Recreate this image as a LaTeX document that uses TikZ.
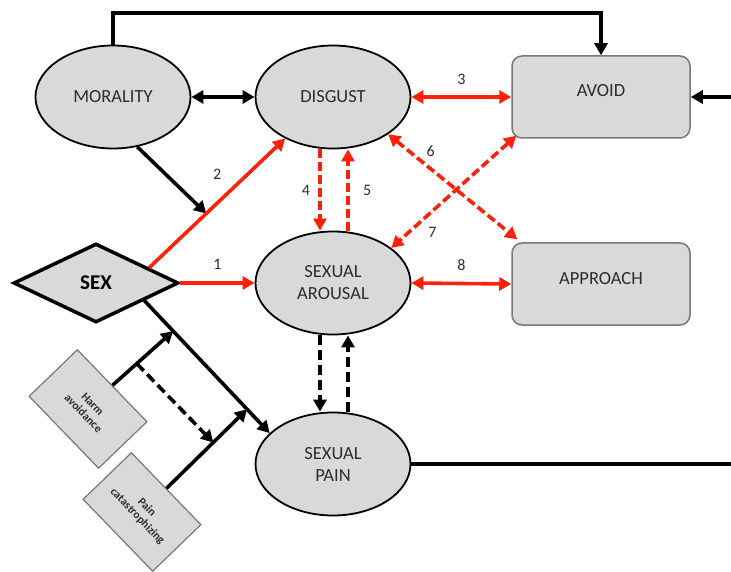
\documentclass[tikz,border=0pt]{standalone}
\usepackage{fontspec}
\setmainfont{Carlito}
\usetikzlibrary{positioning,shapes.geometric,arrows.meta,calc}
\definecolor{boxgray}{RGB}{217,217,217}
\definecolor{edgegray}{RGB}{120,120,120}
\definecolor{pathred}{RGB}{255,34,10}
\definecolor{labelgray}{RGB}{45,45,45}

\begin{document}
\begin{tikzpicture}[x=1pt,y=-1pt,
  >={Triangle[length=12pt,width=13pt]},
  construct/.style={ellipse,draw=black,line width=1.8pt,fill=boxgray,
    minimum width=155pt,minimum height=103pt,inner sep=0pt,align=center,
    text=labelgray,font=\fontsize{18.5}{22}\selectfont},
  outcome/.style={rectangle,rounded corners=10pt,draw=edgegray,line width=1.5pt,
    fill=boxgray,minimum width=178pt,minimum height=82pt,text height=12pt,
    text depth=12pt,text=labelgray,font=\fontsize{18.5}{22}\selectfont},
  moderator/.style={rectangle,draw=edgegray,line width=1.2pt,fill=boxgray,
    minimum width=100pt,minimum height=67pt,rotate=-46,align=center,
    text=labelgray,font=\fontsize{11.5}{13}\selectfont\bfseries},
  blk/.style={line width=3.6pt,->},
  blkdash/.style={blk,dash pattern=on 10pt off 5pt},
  redpath/.style={draw=pathred,line width=3.6pt,->},
  reddash/.style={redpath,dash pattern=on 9pt off 4pt},
  num/.style={font=\fontsize{16}{16}\selectfont,text=labelgray}]
  \useasboundingbox (0,0) rectangle (731,572);

  \node[construct] (morality) at (113,97) {MORALITY};
  \node[construct] (disgust) at (333,97) {DISGUST};
  \node[outcome] (avoid) at (601,97) {AVOID};
  \node[diamond,draw=black,line width=3.5pt,fill=boxgray,minimum width=165pt,
    minimum height=79pt,inner sep=0pt,font=\fontsize{21}{21}\selectfont\bfseries]
    (sex) at (96,283) {SEX};
  \node[construct] (arousal) at (333,283) {SEXUAL\\AROUSAL};
  \node[outcome] (approach) at (601,284) {APPROACH};
  \node[construct] (pain) at (333,464) {SEXUAL\\PAIN};
  \node[moderator] (harm) at (88,409) {Harm\\avoidance};
  \node[moderator] (pcat) at (142,512) {Pain\\catastrophizing};

  \coordinate (topTurn) at (601,13);
  \coordinate (rightIn) at (731,97);
  \coordinate (rightOut) at (731,464);
  \coordinate (mTip) at ($(sex.16)!0.42!(disgust.-139)$);
  \coordinate (hTip) at ($(sex.-20)!0.23!(pain.154)$);
  \coordinate (pTip) at ($(sex.-20)!0.82!(pain.154)$);
  \coordinate (hFork) at ($(harm.north)!0.4!(hTip)$);
  \coordinate (pMid) at ($(pcat.north)!0.58!(pTip)$);

  \draw[blk] (morality.north) |- (topTurn) -- (avoid.north);
  \draw[blk] (rightIn) -- (avoid.east);
  \draw[line width=3.6pt] (pain.east) -- (rightOut);
  \draw[blk,<->] (morality.east) -- (disgust.west);
  \draw[blk] (morality.-64) -- (mTip);

  \draw[redpath] (sex.16) -- node[num,above=19pt]{2} (disgust.-139);
  \draw[redpath] (sex.east) -- node[num,above=8pt]{1} (arousal.west);
  \draw[redpath,<->] (disgust.east) -- node[num,above=7pt]{3} (avoid.west);
  \draw[redpath,<->] (arousal.east) -- node[num,above=8pt]{8} (approach.west);
  \draw[reddash] ([xshift=-13pt]disgust.south) -- node[num,left=5pt]{4} ([xshift=-13pt]arousal.north);
  \draw[reddash] ([xshift=15pt]arousal.north) -- node[num,right=10pt]{5} ([xshift=15pt]disgust.south);
  \draw[reddash,<->] (disgust.-34) -- node[num,pos=0.33,above=7pt]{6} ([xshift=6pt,yshift=3pt]approach.north west);
  \draw[reddash,<->] ([xshift=5pt,yshift=3pt]avoid.south west) -- node[num,pos=0.67,below=11pt]{7} (arousal.31);

  \draw[blkdash] ([xshift=-13pt]arousal.south) -- ([xshift=-13pt]pain.north);
  \draw[blkdash] ([xshift=15pt]pain.north) -- ([xshift=15pt]arousal.south);

  \draw[blk] (sex.-20) -- (pain.154);
  \draw[blk] (harm.north) -- (hTip);
  \draw[blk] (pcat.north) -- (pTip);
  \draw[blkdash] (hFork) -- (pMid);
\end{tikzpicture}
\end{document}
